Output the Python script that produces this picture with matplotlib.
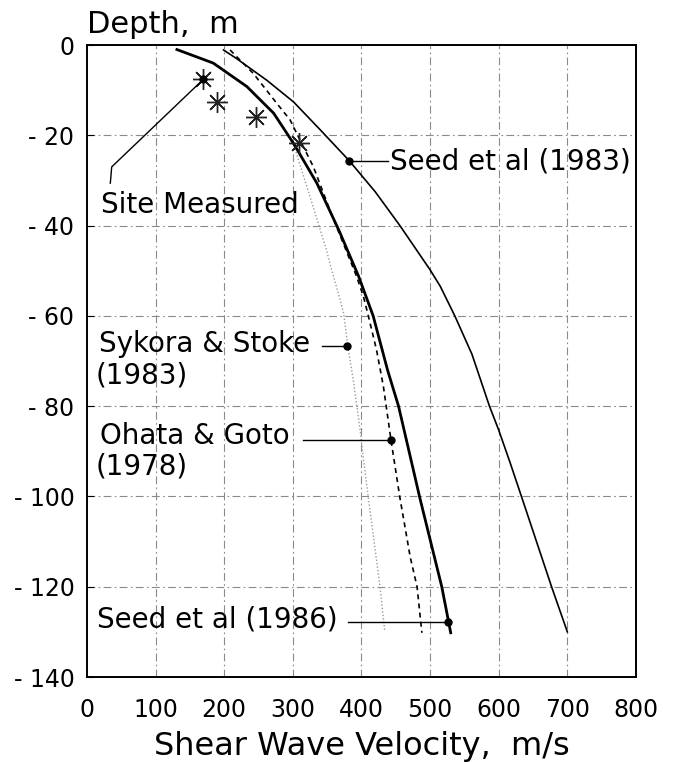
import matplotlib
matplotlib.use("Agg")
import matplotlib.pyplot as plt

plt.rcParams['font.family'] = ['DejaVu Sans']

# site measured shear wave velocities (m/s) and depths (m)
site_v = [169.5, 190, 247, 309]
site_d = [-7.6, -12.6, -15.9, -21.8]

# Seed et al (1983) - thin solid
seed83_v = [199, 218, 262, 301, 340, 382, 420, 456, 500, 515, 536, 561, 586.5, 600, 617, 634, 677, 700]
seed83_d = [-1.1, -3, -7.8, -12.6, -18.8, -25.6, -32.5, -40, -49.8, -53.5, -60, -68.5, -80, -85.3, -92.7, -100.4, -120, -130]

# Seed et al (1986) - thick solid
seed86_v = [131, 184, 233, 272, 301, 335, 367, 396, 417, 438, 454, 467, 485, 517, 527, 530]
seed86_d = [-1, -4, -9.2, -15.1, -21.8, -30.6, -41, -51.3, -60, -72, -80, -88.5, -100.3, -120, -127.8, -130.2]

# Ohata & Goto (1978) - dashed
ohata_v = [208.5, 242.4, 276.5, 296, 308, 330, 354, 393, 403, 410, 422, 432, 436, 443, 456, 471, 481, 488]
ohata_d = [-1.1, -6.3, -12.9, -16.6, -20.3, -27, -36.6, -51.3, -55.8, -60, -67.6, -75.7, -80, -87.5, -100.3, -113.4, -120, -130.2]

# Sykora & Stoke (1983) - light dotted
sykora_v = [300, 325, 349, 354, 369, 374, 380, 388, 398, 403, 410, 427, 434]
sykora_d = [-21.5, -33.6, -45.4, -48.4, -56.5, -59.4, -66.7, -74.2, -85.3, -91.9, -100.3, -120, -130]

x_ticks = [0, 100, 200, 300, 400, 500, 600, 700, 800]
y_ticks = [0, -20, -40, -60, -80, -100, -120, -140]
y_labels = ["0", "- 20", "- 40", "- 60", "- 80", "- 100", "- 120", "- 140"]

fig = plt.figure(figsize=(6.77, 7.62), dpi=100)
ax = fig.add_axes([0.1285, 0.1115, 0.8109, 0.8294])

grid_style = dict(color="#8a8a8a", linewidth=0.8, linestyle=(0, (7, 3, 1.5, 3)))
for xv in x_ticks[1:-1]:
    ax.axvline(xv, zorder=0, **grid_style)
for yv in y_ticks[1:-1]:
    ax.axhline(yv, zorder=0, **grid_style)

# curves
ax.plot(sykora_v, sykora_d, color="#9a9a9a", linewidth=1.0, linestyle=(0, (1, 1.5)))
ax.plot(ohata_v, ohata_d, color="black", linewidth=1.2, linestyle=(0, (3, 2.5)))
ax.plot(seed86_v, seed86_d, color="black", linewidth=2.0)
ax.plot(seed83_v, seed83_d, color="black", linewidth=1.2)
ax.plot(site_v, site_d, linestyle="none", marker=(8, 2, 0), markersize=15,
        markeredgewidth=1.0, color="#222222")

# leaders and labels
lead = dict(color="black", linewidth=1.0)
dot = dict(marker="o", markersize=5, color="black", linestyle="none")
txt = dict(fontsize=20, va="center", ha="left")

ax.plot([site_v[0], 36, 34], [site_d[0], -27, -30.6], **lead)
ax.plot([site_v[0]], [site_d[0]], **dot)
ax.text(21, -35.4, "Site Measured", **txt)

ax.plot([382, 439], [-25.6, -25.6], **lead)
ax.plot([382], [-25.6], **dot)
ax.text(442, -25.7, "Seed et al (1983)", **txt)

ax.plot([342, 379.5], [-66.7, -66.7], **lead)
ax.plot([379.5], [-66.7], **dot)
ax.text(18, -66.2, "Sykora & Stoke", **txt)
ax.text(13, -73.1, "(1983)", **txt)

ax.plot([315, 442.6], [-87.4, -87.4], **lead)
ax.plot([442.6], [-87.4], **dot)
ax.text(19, -86.6, "Ohata & Goto", **txt)
ax.text(13, -93.4, "(1978)", **txt)

ax.plot([380, 526.7], [-127.8, -127.8], **lead)
ax.plot([526.7], [-127.8], **dot)
ax.text(14, -127.2, "Seed et al (1986)", **txt)

ax.set_xlim(0, 800)
ax.set_ylim(-140, 0)
ax.set_xticks(x_ticks)
ax.set_yticks(y_ticks)
ax.set_yticklabels(y_labels)
ax.tick_params(axis="x", labelsize=17, direction="in", length=0, pad=15)
ax.tick_params(axis="y", labelsize=17, direction="in", length=5, pad=9)
for s in ax.spines.values():
    s.set_linewidth(1.4)

fig.text(361.5 / 677, 1 - 755 / 762, "Shear Wave Velocity,  m/s", fontsize=23,
         ha="center", va="baseline")
fig.text(87 / 677, 1 - 33 / 762, "Depth,  m", fontsize=22, ha="left", va="baseline")

fig.savefig("out.png", dpi=100)
